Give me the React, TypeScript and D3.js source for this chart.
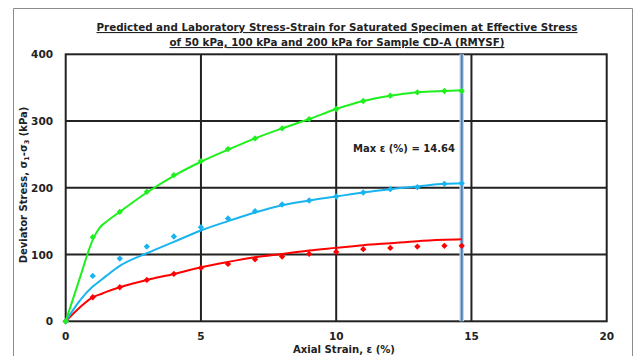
import React from "react";
import * as d3 from "d3";

// Laboratory measurements (axial strain %, deviator stress kPa)
const labStrain = [0, 1, 2, 3, 4, 5, 6, 7, 8, 9, 10, 11, 12, 13, 14, 14.64];
const lab50 = [0, 36, 51, 62, 71, 80, 86, 93, 97, 101, 104, 108, 110, 112, 113, 113];
const lab100 = [0, 68, 94, 112, 127, 141, 154, 165, 175, 181, 187, 193, 198, 201, 206, 207];
const lab200 = [0, 126, 164, 194, 219, 240, 258, 274, 289, 303, 318, 330, 338, 343, 345, 345];

// Predicted curves
const predStrain = [0, 0.5, 1, 1.25, 1.5, 2, 3, 4, 5, 6, 7, 8, 9, 10, 11, 12, 13, 14, 14.64];
const pred50 = [0, 20, 36, 40, 44, 51, 62, 71, 81, 89, 96, 101, 106, 110, 114, 117, 120, 122, 123];
const pred100 = [0, 30, 52, 60, 68, 83, 102, 119, 136, 150, 163, 174, 181, 187, 193, 198, 202, 206, 207];
const pred200 = [0, 62, 122, 140, 149, 164, 193, 218, 239, 257, 274, 289, 303, 318, 330, 338, 343, 345, 346];

const maxStrain = 14.64;
const xTicks = [0, 5, 10, 15, 20];
const yTicks = [0, 100, 200, 300, 400];

const colors = { s50: "#ff0000", s100: "#18b4f0", s200: "#1ef01e" };

const FONT = "'DejaVu Sans', sans-serif";

export default function App() {
  const W = 635;
  const H = 356;
  const left = 65.7;
  const right = 606.7;
  const top = 54.3;
  const bottom = 321.3;

  const x = d3.scaleLinear().domain([0, 20]).range([left, right]);
  const y = d3.scaleLinear().domain([0, 400]).range([bottom, top]);

  const line = d3
    .line<[number, number]>()
    .x((d) => x(d[0]))
    .y((d) => y(d[1]))
    .curve(d3.curveMonotoneX);

  const marker = d3.symbol().type(d3.symbolSquare).size(20)();

  const series = [
    { key: "s50", lab: lab50, pred: pred50, color: colors.s50 },
    { key: "s100", lab: lab100, pred: pred100, color: colors.s100 },
    { key: "s200", lab: lab200, pred: pred200, color: colors.s200 },
  ];

  return (
    <svg width={W} height={H} style={{ position: "absolute", left: 0, top: 0 }}>
      <rect x={0} y={0} width={W} height={H} fill="#fff" />
      {/* outer frame */}
      <path d={`M13.5,${H} V8.5 H632.5 V${H}`} fill="none" stroke="#8c8c8c" strokeWidth={1} />

      {/* title */}
      <g fontFamily={FONT} fontWeight="bold" fontSize={11} fill="#222" textAnchor="middle">
        <text x={337} y={31} textLength={481} lengthAdjust="spacingAndGlyphs" textDecoration="underline">
          Predicted and Laboratory Stress-Strain for Saturated Specimen at Effective Stress
        </text>
        <text x={337} y={46} textLength={335} lengthAdjust="spacingAndGlyphs" textDecoration="underline">
          of 50 kPa, 100 kPa and 200 kPa for Sample CD-A (RMYSF)
        </text>
      </g>

      {/* grid */}
      <g stroke="#222" strokeWidth={2}>
        {xTicks.slice(1, -1).map((t) => (
          <line key={"gx" + t} x1={x(t)} x2={x(t)} y1={top} y2={bottom} />
        ))}
        {yTicks.slice(1, -1).map((t) => (
          <line key={"gy" + t} x1={left} x2={right} y1={y(t)} y2={y(t)} />
        ))}
      </g>
      <rect x={left} y={top} width={right - left} height={bottom - top} fill="none" stroke="#222" strokeWidth={2} />

      {/* maximum strain marker */}
      <line x1={x(maxStrain)} x2={x(maxStrain)} y1={top} y2={bottom} stroke="#c4d7ec" strokeWidth={4.5} />
      <line x1={x(maxStrain)} x2={x(maxStrain)} y1={top} y2={bottom} stroke="#4a80b8" strokeWidth={2} />

      {/* curves and points */}
      {series.map((s) => (
        <g key={s.key}>
          <path
            d={line(predStrain.map((v, i) => [v, s.pred[i]] as [number, number])) || ""}
            fill="none"
            stroke={s.color}
            strokeWidth={2}
          />
          {labStrain.map((v, i) => (
            <path
              key={i}
              d={marker}
              transform={`translate(${x(v)},${y(s.lab[i])}) rotate(45)`}
              fill={s.color}
            />
          ))}
        </g>
      ))}

      {/* tick labels */}
      <g fontFamily={FONT} fontWeight="bold" fontSize={10.5} fill="#222">
        {yTicks.map((t) => (
          <text key={"ty" + t} x={53} y={y(t) + 4} textAnchor="end">
            {t}
          </text>
        ))}
        {xTicks.map((t) => (
          <text key={"tx" + t} x={x(t)} y={340} textAnchor="middle">
            {t}
          </text>
        ))}
      </g>

      {/* axis titles */}
      <text
        x={344}
        y={353}
        textAnchor="middle"
        fontFamily={FONT}
        fontWeight="bold"
        fontSize={10}
        textLength={102}
        lengthAdjust="spacingAndGlyphs"
        fill="#222"
      >
        Axial Strain, ε (%)
      </text>
      <text
        transform="translate(27,185) rotate(-90)"
        textAnchor="middle"
        fontFamily={FONT}
        fontWeight="bold"
        fontSize={10}
        fill="#222"
      >
        Deviator Stress, σ<tspan fontSize={6.5} dy={2}>1</tspan>
        <tspan dy={-2}>-σ</tspan>
        <tspan fontSize={6.5} dy={2}>3</tspan>
        <tspan dy={-2}> (kPa)</tspan>
      </text>

      {/* annotation */}
      <text
        x={353}
        y={152}
        fontFamily={FONT}
        fontWeight="bold"
        fontSize={10}
        textLength={102}
        lengthAdjust="spacingAndGlyphs"
        fill="#222"
      >
        Max ε (%) = 14.64
      </text>
    </svg>
  );
}
